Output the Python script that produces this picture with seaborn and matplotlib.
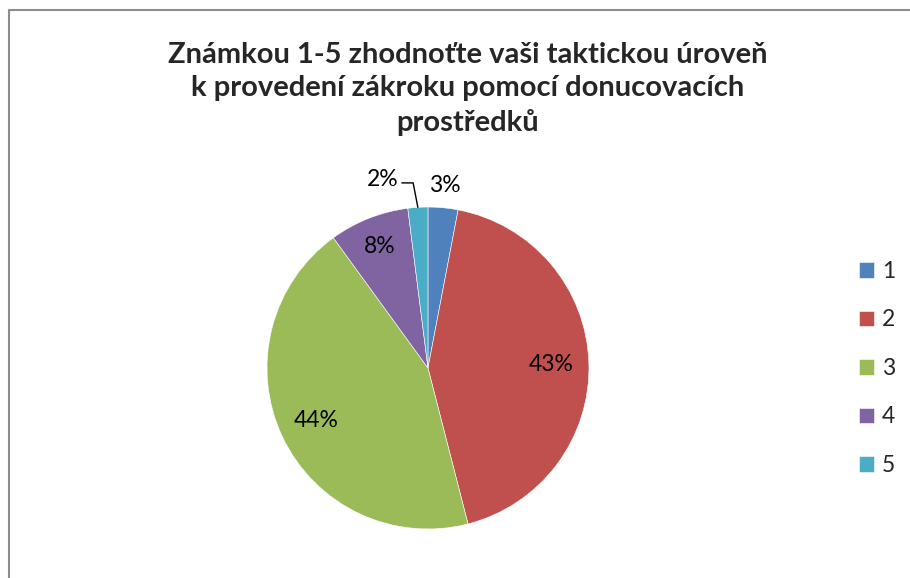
import matplotlib
matplotlib.use('Agg')
import numpy as np
import matplotlib.pyplot as plt
import seaborn as sns
from matplotlib.lines import Line2D

# Data
categories = ['1', '2', '3', '4', '5']
shares = [3, 43, 44, 8, 2]
pct_labels = ['3%', '43%', '44%', '8%', '2%']
label_dist = [1.14, 0.765, 0.767, 0.81, 1.17]
title = 'Známkou 1-5 zhodnoťte vaši taktickou úroveň\nk provedení zákroku pomocí donucovacích\nprostředků'

sns.set_theme(style='white')
plt.rcParams['font.family'] = ['Lato', 'DejaVu Sans']
colors = sns.color_palette(['#4F81BD', '#C0504D', '#9BBB59', '#8064A2', '#4BACC6'])

fig = plt.figure(figsize=(9.1, 5.78), dpi=100)
ax = fig.add_axes([0.2934, 0.0848, 0.3538, 0.557])

wedges, _ = ax.pie(shares, colors=colors, startangle=90, counterclock=False,
                   wedgeprops=dict(edgecolor='white', linewidth=0.4))
ax.set_xlim(-1, 1)
ax.set_ylim(-1, 1)

# Percentage labels placed along each wedge's mid angle
for i, (w, lab) in enumerate(zip(wedges, pct_labels)):
    mid = np.deg2rad((w.theta1 + w.theta2) / 2)
    d = label_dist[i]
    if categories[i] == '5':
        # small slice: label moved left, with an elbow leader line
        ex, ey = np.cos(mid), np.sin(mid)
        kx, ky = 1.15 * np.cos(mid) - 0.02, d - 0.02
        sx = kx - 0.07
        ax.plot([sx, kx, ex], [ky, ky, ey], color='black', lw=1, clip_on=False)
        ax.text(sx - 0.02, d, lab, ha='right', va='center', fontsize=16.5, color='black')
    else:
        ax.text(d * np.cos(mid), d * np.sin(mid), lab, ha='center', va='center',
                fontsize=16.5, color='black')

fig.text(0.514, 0.846, title, ha='center', va='center', fontsize=21,
         fontweight='bold', linespacing=1.37)

leg = fig.legend(wedges, categories, loc='center left', bbox_to_anchor=(0.944, 0.3625),
                 frameon=False, fontsize=16.5, handlelength=0.65, handleheight=0.65,
                 handletextpad=0.35, labelspacing=1.2, borderaxespad=0, borderpad=0)

# Chart area border (partially visible)
x0 = 8.5 / 910
y0 = 1 - 9.5 / 578
fig.add_artist(Line2D([x0, x0, 1.1], [-0.1, y0, y0], color='#8c8c8c', lw=1.5,
                      transform=fig.transFigure))

fig.savefig('out.png', dpi=100)
plt.close(fig)
